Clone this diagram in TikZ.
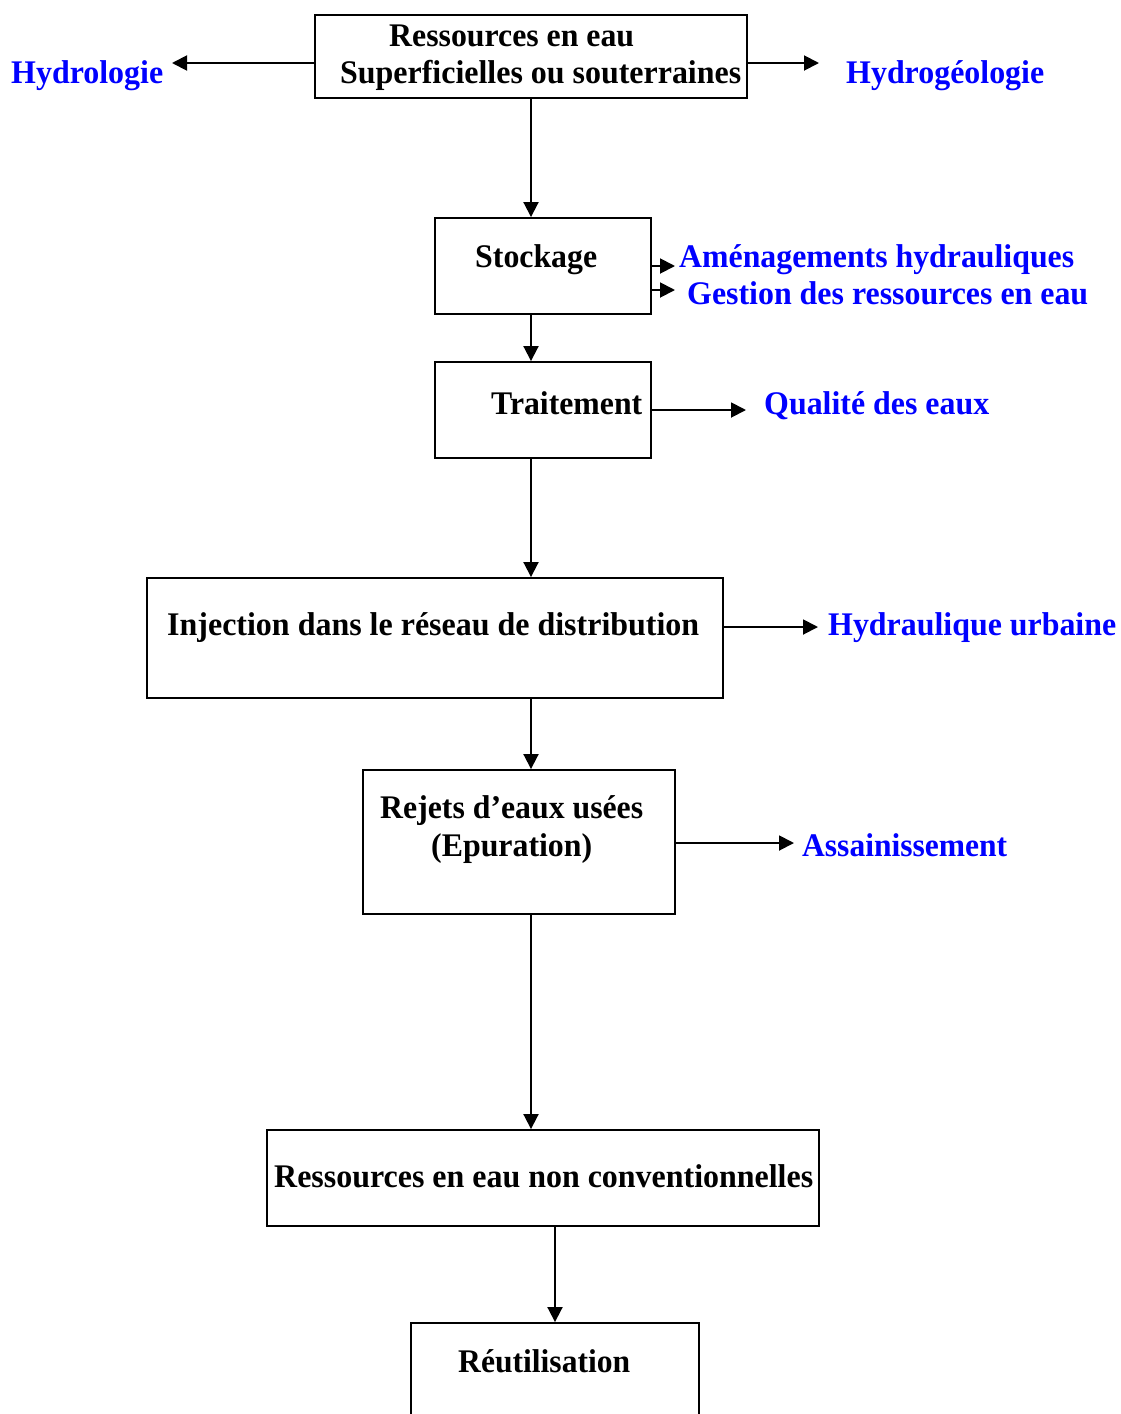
\documentclass[tikz,border=0pt]{standalone}
\usepackage{fontspec}
\setmainfont{Liberation Serif}
\usepackage{graphicx}
\usetikzlibrary{arrows.meta}
\newcommand{\fw}[2]{\resizebox{#1pt}{\height}{#2}}
\begin{document}
\begin{tikzpicture}[x=1pt,y=-1pt,
  box/.style={draw, line width=1.9pt, rectangle, inner sep=0pt},
  arr/.style={line width=1.9pt, -{Triangle[length=15pt,width=15pt]}},
  txt/.style={anchor=base west, inner sep=0pt, font=\fontsize{33}{38}\selectfont\bfseries},
  btxt/.style={txt, text=blue}]
\useasboundingbox (0,0) rectangle (1121,1414);
% boxes
\node[box, minimum width=432, minimum height=83] (b1) at (531,56.5) {};
\node[box, minimum width=216, minimum height=96] (stock) at (543,266) {};
\node[box, minimum width=216, minimum height=96] (trait) at (543,410) {};
\node[box, minimum width=576, minimum height=120] (inj) at (435,638) {};
\node[box, minimum width=312, minimum height=144] (rej) at (519,842) {};
\node[box, minimum width=552, minimum height=96] (nc) at (543,1178) {};
\node[box, minimum width=288, minimum height=130] (reut) at (555,1388) {};
% texts in boxes
\node[txt] (t1a) at (389,46) {\fw{245}{Ressources en eau}};
\node[txt] (t1b) at (340,83) {\fw{401}{Superficielles ou souterraines}};
\node[txt] (tst) at (475,267) {\fw{122}{Stockage}};
\node[txt] (ttr) at (491,414) {\fw{151}{Traitement}};
\node[txt] (tin) at (167,635) {\fw{532}{Injection dans le réseau de distribution}};
\node[txt] (tra) at (380,818) {\fw{263}{Rejets d’eaux usées}};
\node[txt] (trb) at (431,856) {\fw{161}{(Epuration)}};
\node[txt] (tnc) at (274,1187) {\fw{539}{Ressources en eau non conventionnelles}};
\node[txt] (tre) at (458,1372) {\fw{172}{Réutilisation}};
% blue labels
\node[btxt] (hyd) at (11,83) {\fw{152}{Hydrologie}};
\node[btxt] (hydg) at (846,83) {\fw{198}{Hydrogéologie}};
\node[btxt] (amen) at (679,267) {\fw{395}{Aménagements hydrauliques}};
\node[btxt] (gest) at (687,304) {\fw{401}{Gestion des ressources en eau}};
\node[btxt] (qual) at (764,414) {\fw{225}{Qualité des eaux}};
\node[btxt] (hurb) at (828,635) {\fw{288}{Hydraulique urbaine}};
\node[btxt] (ass) at (802,856) {\fw{205}{Assainissement}};
% helper coordinates
\coordinate (col) at (531,0);
\coordinate (eHyd) at (172,63);
\coordinate (eHydg) at (819,63);
\coordinate (eAm) at (675,266);
\coordinate (eGe) at (675,290);
\coordinate (eQu) at (746,410);
\coordinate (eHu) at (818,627);
\coordinate (eAs) at (794,843);
% vertical connectors
\draw[arr] (col |- b1.south) -- (col |- stock.north);
\draw[arr] (col |- stock.south) -- (col |- trait.north);
\draw[arr] (col |- trait.south) -- (col |- inj.north);
\draw[arr] (col |- inj.south) -- (col |- rej.north);
\draw[arr] (col |- rej.south) -- (col |- nc.north);
\draw[arr] (nc.south -| reut.north) -- (reut.north);
% horizontal connectors
\draw[arr] (b1.west |- eHyd) -- (eHyd);
\draw[arr] (b1.east |- eHydg) -- (eHydg);
\draw[arr] (stock.east |- eAm) -- (eAm);
\draw[arr] (stock.east |- eGe) -- (eGe);
\draw[arr] (trait.east |- eQu) -- (eQu);
\draw[arr] (inj.east |- eHu) -- (eHu);
\draw[arr] (rej.east |- eAs) -- (eAs);
\end{tikzpicture}
\end{document}
